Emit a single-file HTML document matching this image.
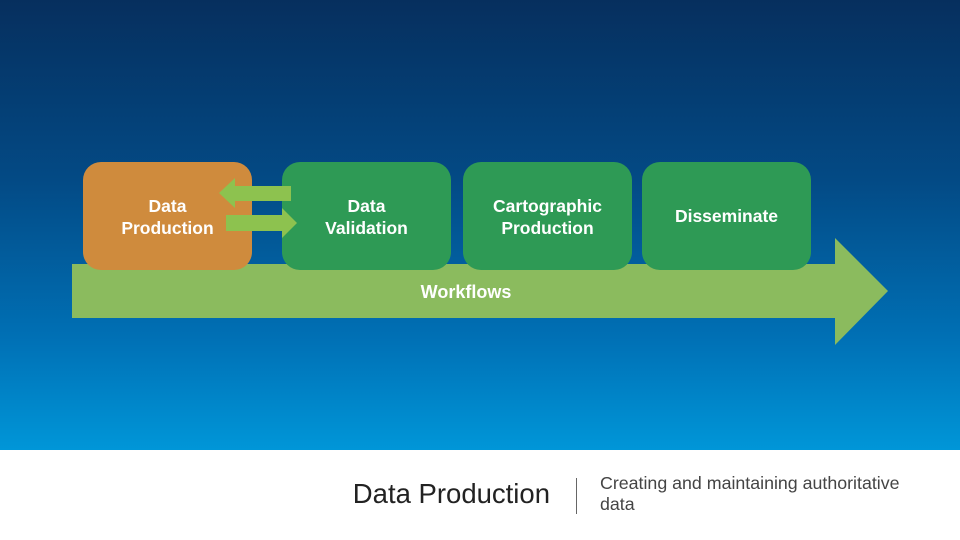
<!DOCTYPE html>
<html><head><style>
body{margin:0;width:960px;height:540px;overflow:hidden;font-family:"Liberation Sans",sans-serif}
.bg{position:absolute;left:0;top:0;width:960px;height:450px;background:linear-gradient(#062f5e 0%,#034a85 40%,#0070b5 75%,#0096d8 100%)}
.box{position:absolute;top:162px;width:169px;height:108px;border-radius:18px;background:#2e9a55;color:#fff;font-weight:bold;font-size:17.5px;display:flex;align-items:center;justify-content:center;text-align:center;line-height:22px;padding-top:2px;box-sizing:border-box}
</style></head><body>
<div class="bg"></div>
<svg style="position:absolute;left:0;top:0" width="960" height="450">
<polygon points="72,264 835,264 835,238 888,291 835,345 835,318 72,318" fill="#8bbb5e"/>
</svg>
<div class="box" style="left:83px;background:#cf8b3d">Data<br>Production</div>
<div class="box" style="left:282px">Data<br>Validation</div>
<div class="box" style="left:463px">Cartographic<br>Production</div>
<div class="box" style="left:642px;padding-top:0">Disseminate</div>
<svg style="position:absolute;left:0;top:0" width="960" height="450">
<polygon points="291,186 235,186 235,178 219,193 235,208 235,201 291,201" fill="#8dc24f"/>
<polygon points="226,215 282,215 282,208 297,223 282,238 282,231 226,231" fill="#8dc24f"/>
<text x="466" y="298" fill="#fff" font-family="Liberation Sans" font-weight="bold" font-size="18" text-anchor="middle">Workflows</text>
</svg>
<div style="position:absolute;left:0;top:450px;width:960px;height:90px;background:#fff"></div>
<div style="position:absolute;right:410px;top:478px;font-size:27.5px;color:#222">Data Production</div>
<div style="position:absolute;left:576px;top:478px;width:1px;height:36px;background:#666"></div>
<div style="position:absolute;left:600px;top:473px;font-size:17.8px;color:#444;line-height:21px;width:320px">Creating and maintaining authoritative data</div>
</body></html>
